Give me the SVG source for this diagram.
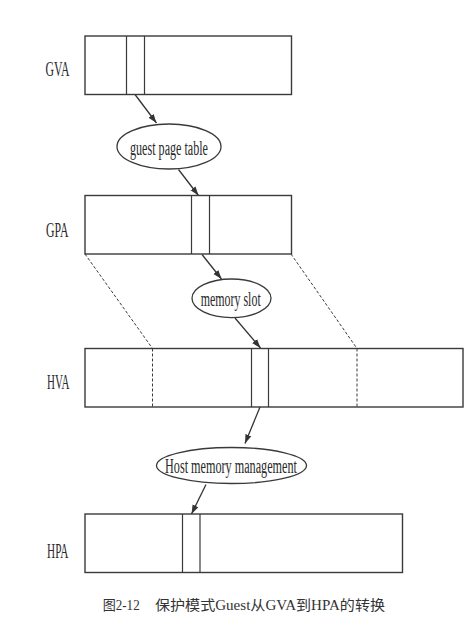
<svg xmlns="http://www.w3.org/2000/svg" width="476" height="618" viewBox="0 0 476 618">
<style>
.box{fill:none;stroke:#3a3a3a;stroke-width:1.4}
.slot{fill:none;stroke:#3a3a3a;stroke-width:1.2}
.dash{fill:none;stroke:#3a3a3a;stroke-width:1;stroke-dasharray:3,2}
.ell{fill:#fff;stroke:#3a3a3a;stroke-width:1.3}
.lbl{font-family:"Liberation Serif",serif;font-size:22px;fill:#2a2a2a}
.etx{font-family:"Liberation Serif",serif;font-size:20px;fill:#2a2a2a}
.arr{fill:none;stroke:#333;stroke-width:1.3;marker-end:url(#ah)}
.cap{font-family:"Liberation Serif","Noto Sans CJK SC",serif;font-size:14px;fill:#333}
</style>
<defs>
<marker id="ah" viewBox="0 0 10 10" refX="10" refY="5" markerWidth="9" markerHeight="9" markerUnits="userSpaceOnUse" orient="auto">
<path d="M0,1.5 L10,5 L0,8.5 Z" fill="#333"/>
</marker>
</defs>
<rect width="476" height="618" fill="#fff"/>
<g id="connectors">
<line class="dash" x1="85" y1="254" x2="152.5" y2="348.5"/>
<line class="dash" x1="291" y1="254" x2="357" y2="348.5"/>
<line class="dash" x1="152.5" y1="348.5" x2="152.5" y2="406.5"/>
<line class="dash" x1="357" y1="348.5" x2="357" y2="406.5"/>
<line class="arr" x1="135" y1="94.5" x2="156.5" y2="123"/>
<line class="arr" x1="178.5" y1="169.5" x2="198.5" y2="195.5"/>
<line class="arr" x1="202" y1="254.5" x2="221.5" y2="279"/>
<line class="arr" x1="235" y1="318" x2="260.5" y2="348"/>
<line class="arr" x1="260" y1="407" x2="245" y2="443.5"/>
<line class="arr" x1="206" y1="484.5" x2="191.5" y2="514"/>
</g>
<g id="gva">
<rect class="box" x="85" y="36" width="206.5" height="58.5"/>
<line class="slot" x1="126.5" y1="36" x2="126.5" y2="94.5"/>
<line class="slot" x1="144.5" y1="36" x2="144.5" y2="94.5"/>
<text class="lbl" x="45.5" y="75.5" textLength="24" lengthAdjust="spacingAndGlyphs">GVA</text>
</g>
<g id="guest-page-table">
<ellipse class="ell" cx="169" cy="146.5" rx="52" ry="22.5"/>
<text class="etx" x="130" y="154.5" textLength="78" lengthAdjust="spacingAndGlyphs">guest page table</text>
</g>
<g id="gpa">
<rect class="box" x="85" y="195.5" width="206.5" height="58.5"/>
<line class="slot" x1="191.5" y1="195.5" x2="191.5" y2="254"/>
<line class="slot" x1="209.5" y1="195.5" x2="209.5" y2="254"/>
<text class="lbl" x="46" y="236.5" textLength="22.5" lengthAdjust="spacingAndGlyphs">GPA</text>
</g>
<g id="memory-slot">
<ellipse class="ell" cx="231.5" cy="298.3" rx="39.5" ry="19.3"/>
<text class="etx" x="200.7" y="305.5" textLength="60" lengthAdjust="spacingAndGlyphs">memory slot</text>
</g>
<g id="hva">
<rect class="box" x="85" y="348.5" width="378" height="58.5"/>
<line class="slot" x1="251.5" y1="348.5" x2="251.5" y2="407"/>
<line class="slot" x1="268.5" y1="348.5" x2="268.5" y2="407"/>
<text class="lbl" x="47" y="389" textLength="22.5" lengthAdjust="spacingAndGlyphs">HVA</text>
</g>
<g id="host-memory-management">
<ellipse class="ell" cx="231.5" cy="465.5" rx="75" ry="18"/>
<text class="etx" x="165" y="472.5" textLength="132" lengthAdjust="spacingAndGlyphs">Host memory management</text>
</g>
<g id="hpa">
<rect class="box" x="85" y="514" width="317.5" height="58.5"/>
<line class="slot" x1="182.5" y1="514" x2="182.5" y2="572.5"/>
<line class="slot" x1="200" y1="514" x2="200" y2="572.5"/>
<text class="lbl" x="47" y="558" textLength="21.5" lengthAdjust="spacingAndGlyphs">HPA</text>
</g>
<g id="caption">
<text class="cap" x="102.7" y="610" textLength="37" lengthAdjust="spacingAndGlyphs">图2-12</text>
<text class="cap" x="155" y="610" textLength="230" lengthAdjust="spacingAndGlyphs">保护模式Guest从GVA到HPA的转换</text>
</g>
</svg>
